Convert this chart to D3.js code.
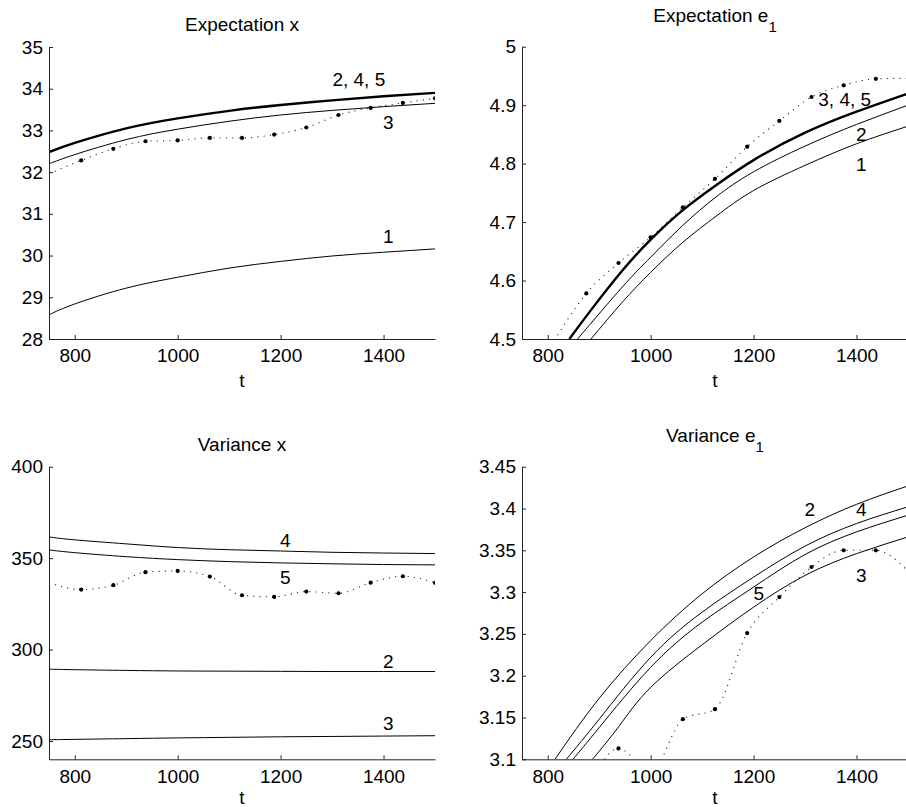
<!DOCTYPE html>
<html>
<head>
<meta charset="utf-8">
<script src="https://cdn.jsdelivr.net/npm/d3@7"></script>
<style>
  body { margin: 0; background: #fff; }
  svg { display: block; font-family: "Liberation Sans", Arial, sans-serif; }
</style>
</head>
<body>
<svg id="chart" width="906" height="807"></svg>
<script>
// shared time axis
const tDomain = [750, 1500];
const tTicks = [800, 1000, 1200, 1400];
const tGrid = [750, 800, 900, 1000, 1100, 1200, 1300, 1400, 1500];
const tSim = [750, 812.5, 875, 937.5, 1000, 1062.5, 1125, 1187.5, 1250, 1312.5, 1375, 1437.5, 1500];

// Expectation x
const expXTicks = [28, 29, 30, 31, 32, 33, 34, 35];
const expX245 = [32.48, 32.7, 33.05, 33.29, 33.47, 33.61, 33.72, 33.82, 33.9];
const expX3 = [32.2, 32.42, 32.78, 33.03, 33.22, 33.37, 33.48, 33.57, 33.65];
const expX1 = [28.58, 28.84, 29.22, 29.48, 29.7, 29.86, 29.99, 30.08, 30.16];
const expXSim = [31.96, 32.28, 32.56, 32.74, 32.76, 32.82, 32.82, 32.9, 33.07, 33.37, 33.54, 33.66, 33.77];

// Expectation e1 (curves start where they enter the axes)
const expETicks = [4.5, 4.6, 4.7, 4.8, 4.9, 5];
const expE345T = [842, 881, 945, 1000, 1062, 1127, 1200, 1300, 1400, 1500];
const expE345 = [4.5, 4.546, 4.617, 4.67, 4.72, 4.763, 4.806, 4.853, 4.889, 4.92];
const expE2T = [858, 945, 1000, 1062, 1127, 1200, 1300, 1400, 1500];
const expE2 = [4.5, 4.589, 4.64, 4.694, 4.743, 4.786, 4.83, 4.867, 4.9];
const expE1T = [884, 945, 1000, 1062, 1127, 1200, 1300, 1400, 1500];
const expE1 = [4.5, 4.563, 4.614, 4.665, 4.71, 4.754, 4.797, 4.834, 4.864];
const expESimT = tSim.slice(1);
const expESim = [4.497, 4.578, 4.63, 4.674, 4.725, 4.774, 4.829, 4.873, 4.914, 4.934, 4.945, 4.946];

// Variance x
const varXTicks = [250, 300, 350, 400];
const varX4 = [361.6, 360.0, 357.8, 355.8, 354.6, 353.9, 353.2, 352.8, 352.5];
const varX5 = [354.5, 353.0, 350.8, 349.2, 348.1, 347.4, 346.9, 346.5, 346.3];
const varX2 = [289.3, 289.0, 288.6, 288.3, 288.2, 288.1, 288.0, 288.0, 288.0];
const varX3 = [250.7, 250.9, 251.3, 251.7, 252.0, 252.3, 252.5, 252.7, 252.9];
const varXSim = [336.6, 332.8, 335.2, 342.3, 343.0, 339.9, 329.7, 328.8, 331.7, 330.8, 336.6, 340.1, 336.5];

// Variance e1
const varETicks = [3.1, 3.15, 3.2, 3.25, 3.3, 3.35, 3.4, 3.45];
const varE2T = [814, 900, 1000, 1100, 1200, 1300, 1400, 1500];
const varE2 = [3.1, 3.173, 3.242, 3.298, 3.342, 3.377, 3.405, 3.427];
const varE4T = [836, 900, 1000, 1100, 1200, 1300, 1400, 1500];
const varE4 = [3.1, 3.148, 3.222, 3.276, 3.318, 3.355, 3.382, 3.402];
const varE5T = [849, 900, 1000, 1100, 1200, 1300, 1400, 1500];
const varE5 = [3.1, 3.138, 3.21, 3.264, 3.306, 3.345, 3.372, 3.392];
const varE3T = [887, 939, 1000, 1100, 1200, 1300, 1400, 1500];
const varE3 = [3.1, 3.14, 3.186, 3.237, 3.282, 3.32, 3.346, 3.366];
const varESimT = tSim.slice(2);
const varESim = [3.06, 3.113, 3.085, 3.148, 3.16, 3.251, 3.294, 3.33, 3.35, 3.35, 3.325];

const zip = (ts, vs) => ts.map((t, i) => [t, vs[i]]);

const panels = [
  {
    title: "Expectation x", sub: null,
    yDomain: [28, 35], yTicks: expXTicks,
    box: { left: 49, right: 435, top: 47, bottom: 339 },
    curves: [
      { pts: zip(tGrid, expX245), width: 2.4 },
      { pts: zip(tGrid, expX3), width: 1 },
      { pts: zip(tGrid, expX1), width: 1 }
    ],
    sim: zip(tSim, expXSim), simMarkFrom: 1,
    labels: [
      { text: "2, 4, 5", t: 1352, v: 34.07 },
      { text: "3", t: 1409, v: 33.03 },
      { text: "1", t: 1409, v: 30.3 }
    ]
  },
  {
    title: "Expectation e", sub: "1",
    yDomain: [4.5, 5], yTicks: expETicks,
    box: { left: 522, right: 908, top: 46.7, bottom: 339 },
    curves: [
      { pts: zip(expE345T, expE345), width: 2.4 },
      { pts: zip(expE2T, expE2), width: 1 },
      { pts: zip(expE1T, expE1), width: 1 }
    ],
    sim: zip(expESimT, expESim), simMarkFrom: 0,
    labels: [
      { text: "3, 4, 5", t: 1377, v: 4.899 },
      { text: "2", t: 1409, v: 4.838 },
      { text: "1", t: 1409, v: 4.787 }
    ]
  },
  {
    title: "Variance x", sub: null,
    yDomain: [240, 400], yTicks: varXTicks,
    box: { left: 49, right: 435, top: 466.7, bottom: 759.3 },
    curves: [
      { pts: zip(tGrid, varX4), width: 1 },
      { pts: zip(tGrid, varX5), width: 1 },
      { pts: zip(tGrid, varX2), width: 1 },
      { pts: zip(tGrid, varX3), width: 1 }
    ],
    sim: zip(tSim, varXSim), simMarkFrom: 1,
    labels: [
      { text: "4", t: 1209, v: 356.1 },
      { text: "5", t: 1209, v: 335.9 },
      { text: "2", t: 1409, v: 290.0 },
      { text: "3", t: 1409, v: 256.1 }
    ]
  },
  {
    title: "Variance e", sub: "1",
    yDomain: [3.1, 3.45], yTicks: varETicks,
    box: { left: 522, right: 908, top: 466.7, bottom: 759.3 },
    curves: [
      { pts: zip(varE2T, varE2), width: 1 },
      { pts: zip(varE4T, varE4), width: 1 },
      { pts: zip(varE5T, varE5), width: 1 },
      { pts: zip(varE3T, varE3), width: 1 }
    ],
    sim: zip(varESimT, varESim), simMarkFrom: 0,
    labels: [
      { text: "2", t: 1309, v: 3.391 },
      { text: "4", t: 1409, v: 3.391 },
      { text: "5", t: 1210, v: 3.291 },
      { text: "3", t: 1409, v: 3.312 }
    ]
  }
];

const svg = d3.select("#chart");
const fontSize = 19;

panels.forEach((p, i) => {
  const b = p.box;
  const x = d3.scaleLinear().domain(tDomain).range([b.left, b.right]);
  const y = d3.scaleLinear().domain(p.yDomain).range([b.bottom, b.top]);
  const g = svg.append("g");

  g.append("clipPath").attr("id", "clip" + i)
    .append("rect")
    .attr("x", b.left).attr("y", b.top)
    .attr("width", b.right - b.left).attr("height", b.bottom - b.top);

  const plot = g.append("g").attr("clip-path", `url(#clip${i})`);

  const smooth = d3.line()
    .x((d) => x(d[0]))
    .y((d) => y(d[1]))
    .curve(d3.curveNatural);

  const simLine = d3.line()
    .x((d) => x(d[0]))
    .y((d) => y(d[1]))
    .curve(d3.curveMonotoneX);

  // dotted simulation line + markers
  plot.append("path")
    .attr("d", simLine(p.sim))
    .attr("fill", "none")
    .attr("stroke", "#222")
    .attr("stroke-width", 1.1)
    .attr("stroke-dasharray", "1.1,5.2");

  plot.selectAll("circle.mark")
    .data(p.sim.slice(p.simMarkFrom).filter((d) => d[1] >= p.yDomain[0] && d[1] <= p.yDomain[1]))
    .join("circle")
    .attr("class", "mark")
    .attr("cx", (d) => x(d[0]))
    .attr("cy", (d) => y(d[1]))
    .attr("r", 2.1)
    .attr("fill", "#000");

  plot.selectAll("path.curve")
    .data(p.curves)
    .join("path")
    .attr("class", "curve")
    .attr("d", (c) => smooth(c.pts))
    .attr("fill", "none")
    .attr("stroke", "#000")
    .attr("stroke-width", (c) => c.width);

  // axes
  const fmt = d3.format("~g");
  const ax = g.append("g")
    .attr("transform", `translate(0,${b.bottom})`)
    .call(d3.axisBottom(x).tickValues(tTicks).tickFormat(fmt)
      .tickSizeInner(-4).tickSizeOuter(0).tickPadding(10));
  const ay = g.append("g")
    .attr("transform", `translate(${b.left},0)`)
    .call(d3.axisLeft(y).tickValues(p.yTicks).tickFormat(fmt)
      .tickSizeInner(-4).tickSizeOuter(0).tickPadding(6));

  [ax, ay].forEach((a) => {
    a.attr("font-size", fontSize).attr("font-family", null);
    a.selectAll("path, line").attr("stroke", "#222");
    a.selectAll("text").attr("fill", "#000");
  });

  // curve labels
  g.selectAll("text.lbl")
    .data(p.labels)
    .join("text")
    .attr("class", "lbl")
    .attr("x", (d) => x(d.t))
    .attr("y", (d) => y(d.v))
    .attr("text-anchor", "middle")
    .attr("font-size", fontSize)
    .text((d) => d.text);

  // title
  const title = g.append("text")
    .attr("x", (b.left + b.right) / 2)
    .attr("y", b.top - (p.sub ? 24.5 : 16))
    .attr("text-anchor", "middle")
    .attr("font-size", fontSize)
    .text(p.title);
  if (p.sub) {
    title.append("tspan")
      .attr("font-size", 15)
      .attr("dy", 10)
      .text(p.sub);
  }

  // x label
  g.append("text")
    .attr("x", (b.left + b.right) / 2)
    .attr("y", Math.min(b.bottom + 48, 804))
    .attr("text-anchor", "middle")
    .attr("font-size", fontSize)
    .text("t");
});
</script>
</body>
</html>
